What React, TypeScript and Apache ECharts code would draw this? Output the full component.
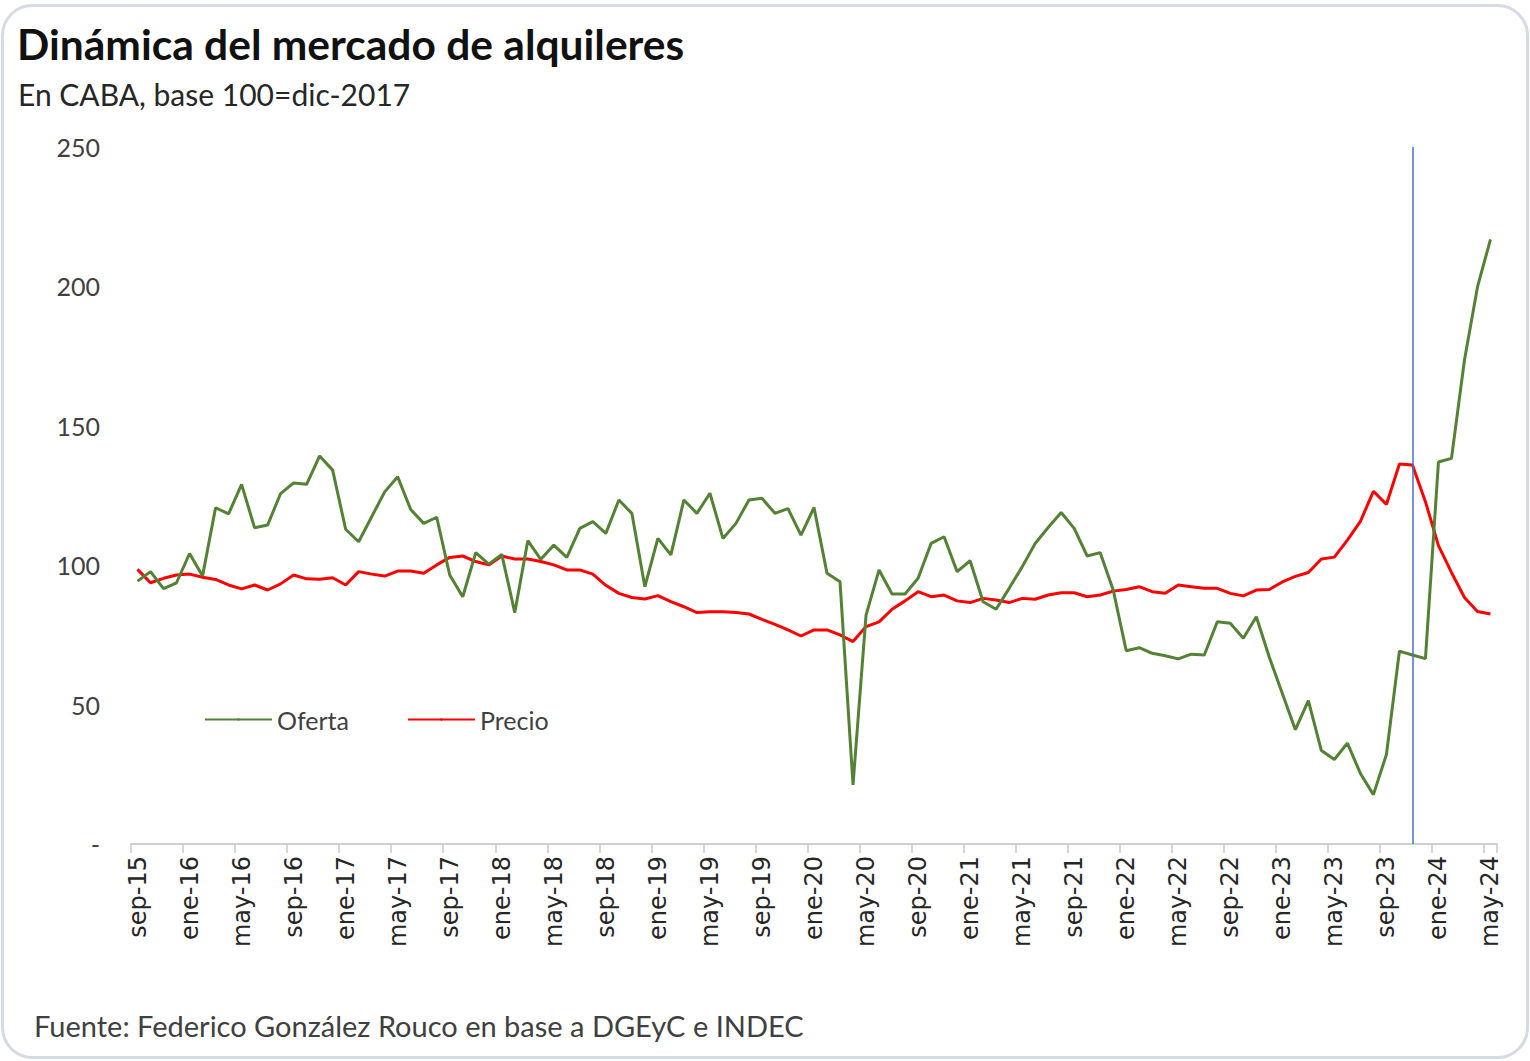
import React, { useEffect, useRef } from "react";
import * as echarts from "echarts";

const categories = [
  "sep-15","oct-15","nov-15","dic-15",
  "ene-16","feb-16","mar-16","abr-16","may-16","jun-16","jul-16","ago-16","sep-16","oct-16","nov-16","dic-16",
  "ene-17","feb-17","mar-17","abr-17","may-17","jun-17","jul-17","ago-17","sep-17","oct-17","nov-17","dic-17",
  "ene-18","feb-18","mar-18","abr-18","may-18","jun-18","jul-18","ago-18","sep-18","oct-18","nov-18","dic-18",
  "ene-19","feb-19","mar-19","abr-19","may-19","jun-19","jul-19","ago-19","sep-19","oct-19","nov-19","dic-19",
  "ene-20","feb-20","mar-20","abr-20","may-20","jun-20","jul-20","ago-20","sep-20","oct-20","nov-20","dic-20",
  "ene-21","feb-21","mar-21","abr-21","may-21","jun-21","jul-21","ago-21","sep-21","oct-21","nov-21","dic-21",
  "ene-22","feb-22","mar-22","abr-22","may-22","jun-22","jul-22","ago-22","sep-22","oct-22","nov-22","dic-22",
  "ene-23","feb-23","mar-23","abr-23","may-23","jun-23","jul-23","ago-23","sep-23","oct-23","nov-23","dic-23",
  "ene-24","feb-24","mar-24","abr-24","may-24"
];

const oferta = [
  94.3, 97.7, 91.6, 93.7,
  104.2, 96.1, 120.6, 118.4, 129.0, 113.4, 114.4, 125.7, 129.5, 129.0, 139.2, 134.1,
  112.9, 108.4, 117.4, 126.3, 131.7, 120.0, 115.0, 117.2, 96.5, 88.7, 104.5, 100.4,
  103.9, 83.0, 108.8, 102.1, 107.2, 102.8, 113.2, 115.6, 111.4, 123.4, 118.6, 92.3,
  109.6, 103.7, 123.4, 118.6, 125.8, 109.6, 115.0, 123.4, 124.0, 118.6, 120.3, 110.8,
  120.7, 97.1, 94.1, 21.2, 82.1, 98.3, 89.7, 89.7, 95.3, 107.8, 110.2, 97.7,
  101.6, 86.9, 84.2, 91.7, 99.4, 107.8, 113.5, 118.9, 113.2, 103.3, 104.5, 91.1,
  69.3, 70.4, 68.4, 67.5, 66.4, 68.1, 67.8, 79.7, 79.2, 73.8, 81.5, 67.0,
  54.0, 41.0, 51.4, 33.5, 30.3, 36.2, 25.3, 17.7, 32.1, 69.2, 67.8, 66.5,
  137.0, 138.3, 173.6, 199.8, 216.9
];

const precio = [
  98.5, 93.7, 95.3, 96.5,
  96.8, 95.7, 94.9, 92.9, 91.5, 92.9, 91.1, 93.3, 96.5, 95.1, 95.0, 95.5,
  92.9, 97.7, 96.8, 96.1, 97.9, 97.9, 97.1, 100.1, 102.8, 103.3, 101.3, 100.1,
  103.3, 102.2, 102.2, 101.3, 100.1, 98.3, 98.3, 96.8, 92.8, 89.9, 88.4, 87.9,
  89.1, 86.9, 85.1, 83.0, 83.3, 83.3, 83.0, 82.5, 80.6, 78.8, 76.8, 74.6,
  76.8, 76.8, 75.0, 72.6, 78.0, 79.7, 84.2, 87.2, 90.5, 88.7, 89.3, 87.2,
  86.6, 88.1, 87.5, 86.6, 88.1, 87.8, 89.3, 90.1, 90.1, 88.7, 89.3, 90.7,
  91.3, 92.3, 90.5, 89.9, 92.9, 92.3, 91.7, 91.7, 89.9, 89.0, 91.1, 91.3,
  94.0, 96.0, 97.4, 102.2, 102.9, 109.0, 115.7, 126.5, 121.8, 136.3, 135.9, 122.8,
  107.0, 97.4, 88.4, 83.4, 82.5
];

const yTicks = [0, 50, 100, 150, 200, 250];
const markerMonth = "nov-23";

const TITLE = "Dinámica del mercado de alquileres";
const SUBTITLE = "En CABA, base 100=dic-2017";
const SOURCE = "Fuente: Federico González Rouco en base a DGEyC e INDEC";

const FONT = "Lato, 'Noto Sans', sans-serif";
const AXIS_FONT = "'DejaVu Sans', Verdana, sans-serif";

export default function App() {
  const ref = useRef<HTMLDivElement>(null);

  useEffect(() => {
    if (!ref.current) return;
    const chart = echarts.init(ref.current, undefined, { renderer: "svg" });
    chart.setOption({
      animation: false,
      backgroundColor: "#ffffff",
      textStyle: { fontFamily: FONT },
      graphic: [
        {
          type: "rect",
          shape: { x: 2.5, y: 5.5, width: 1525, height: 1052, r: 30 },
          style: { fill: "none", stroke: "#d5dbe2", lineWidth: 3 },
          silent: true,
          z: -1,
        },
      ],
      title: [
        {
          text: TITLE,
          left: 12,
          top: 17,
          textStyle: { fontSize: 42.5, fontWeight: "bold", color: "#111111", fontFamily: FONT },
        },
        {
          text: SUBTITLE,
          left: 13,
          top: 74,
          textStyle: { fontSize: 30, fontWeight: "normal", color: "#262626", fontFamily: FONT },
        },
        {
          text: SOURCE,
          left: 29,
          top: 1006,
          textStyle: { fontSize: 29, fontWeight: "normal", color: "#404040", fontFamily: FONT },
        },
      ],
      legend: {
        left: 199,
        top: 702,
        itemWidth: 67,
        itemHeight: 3,
        itemGap: 58,
        textStyle: { fontSize: 25, color: "#404040", fontFamily: FONT },
        data: ["Oferta", "Precio"],
      },
      grid: { left: 131, right: 33, top: 147, bottom: 217, containLabel: false },
      xAxis: {
        type: "category",
        data: categories,
        boundaryGap: true,
        axisLine: { show: true, lineStyle: { color: "#d0d0d0", width: 2 } },
        axisTick: { show: true, interval: 3, length: 9, lineStyle: { color: "#c8c8c8", width: 1.5 } },
        axisLabel: {
          interval: 3,
          rotate: 90,
          fontSize: 24,
          color: "#262626",
          margin: 12,
          fontFamily: AXIS_FONT,
        },
        splitLine: { show: false },
      },
      yAxis: {
        type: "value",
        min: yTicks[0],
        max: yTicks[yTicks.length - 1],
        interval: 50,
        axisLine: { show: false },
        axisTick: { show: false },
        splitLine: { show: false },
        axisLabel: {
          fontSize: 25,
          color: "#404040",
          margin: 31,
          fontFamily: FONT,
          formatter: (v: number) => (v === 0 ? "-" : String(v)),
        },
      },
      series: [
        {
          name: "Oferta",
          type: "line",
          data: oferta,
          symbol: "none",
          lineStyle: { color: "#548235", width: 3 },
          itemStyle: { color: "#548235" },
          z: 3,
          markLine: {
            silent: true,
            symbol: "none",
            label: { show: false },
            lineStyle: { color: "#4472c4", width: 1.5, type: "solid" },
            data: [{ xAxis: markerMonth }],
          },
        },
        {
          name: "Precio",
          type: "line",
          data: precio,
          symbol: "none",
          lineStyle: { color: "#ff0000", width: 3 },
          itemStyle: { color: "#ff0000" },
          z: 2,
        },
      ],
    });
    return () => chart.dispose();
  }, []);

  return (
    <div
      ref={ref}
      style={{ position: "fixed", left: 0, top: 0, width: 1530, height: 1061 }}
    />
  );
}
